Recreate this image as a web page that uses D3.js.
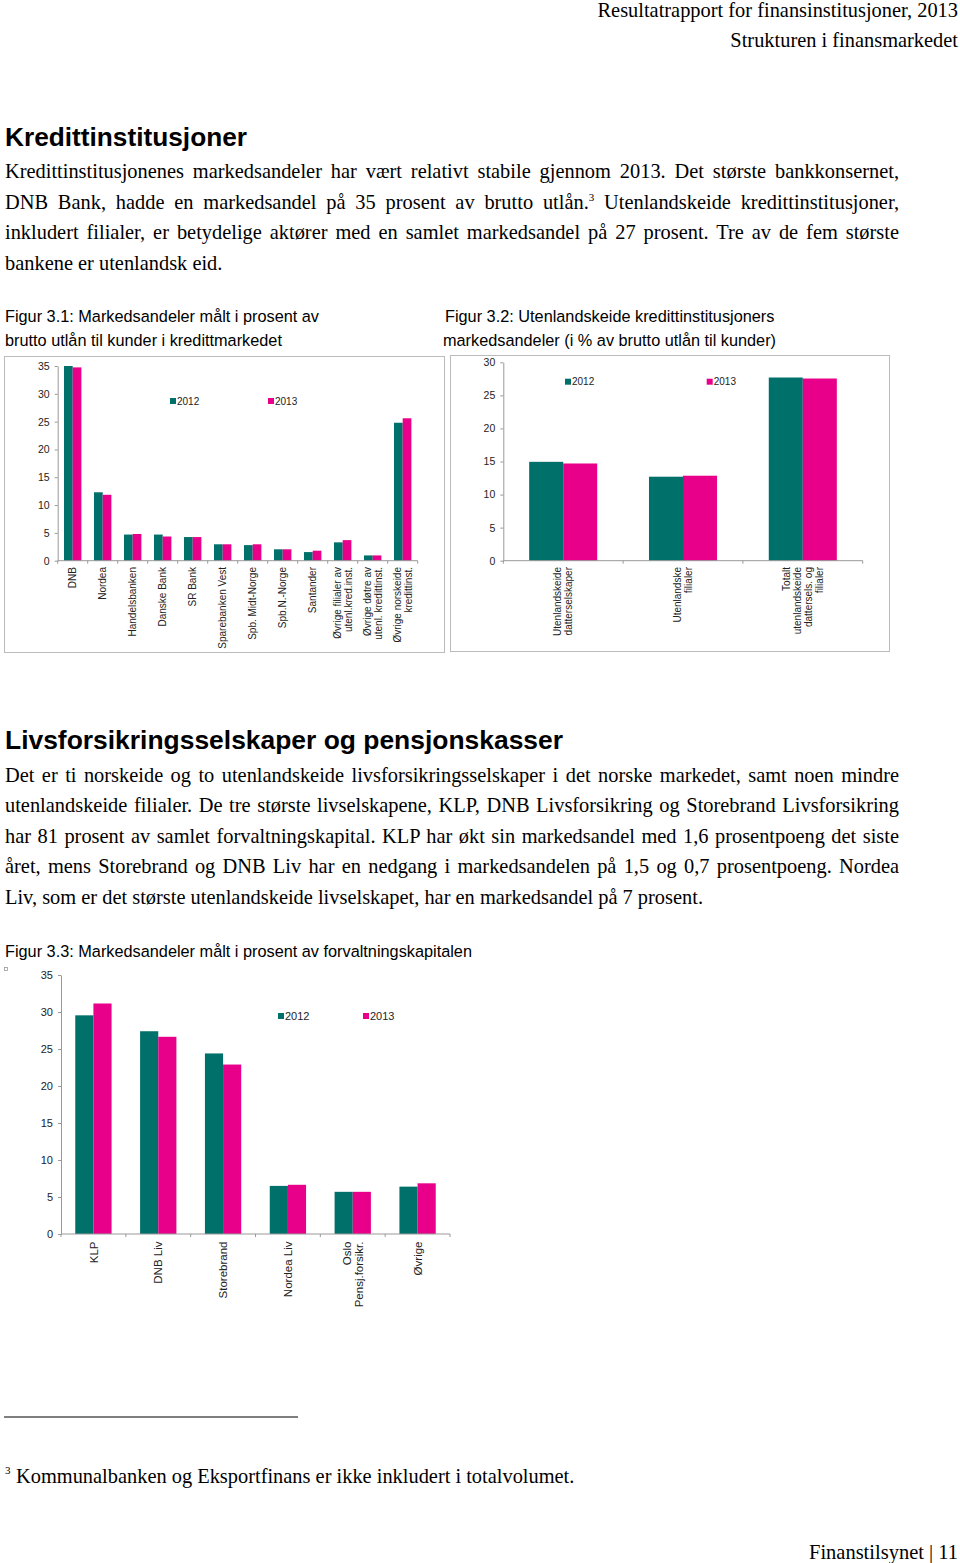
<!DOCTYPE html>
<html><head><meta charset="utf-8">
<script src="https://cdn.jsdelivr.net/npm/d3@7"></script>
<style>body{margin:0;background:#fff}svg{display:block}</style>
</head><body>
<script>
// ---------- data ----------
const banks = ["DNB","Nordea","Handelsbanken","Danske Bank","SR Bank","Sparebanken Vest","Spb. Midt-Norge","Spb.N.-Norge","Santander","Øvrige filialer av\nutenl.kred.inst.","Øvrige døtre av\nutenl. kredittinst.","Øvrige norskeide\nkredittinst."];
const banks2012 = [35.0,12.3,4.7,4.7,4.25,2.95,2.8,2.05,1.55,3.3,0.95,24.8];
const banks2013 = [34.75,11.85,4.8,4.35,4.25,2.95,2.95,2.05,1.8,3.7,0.95,25.6];
const foreignCats = ["Utenlandskeide\ndatterselskaper","Utenlandske\nfilialer","Totalt\nutenlandskeide\ndattersels. og\nfilialer"];
const foreign2012 = [14.95,12.7,27.7];
const foreign2013 = [14.7,12.85,27.55];
const lifeCats = ["KLP","DNB Liv","Storebrand","Nordea Liv","Oslo\nPensj.forsikr.","Øvrige"];
const life2012 = [29.55,27.4,24.4,6.5,5.7,6.4];
const life2013 = [31.15,26.65,22.9,6.65,5.7,6.85];
const years = ["2012","2013"];
const ticks35 = [0,5,10,15,20,25,30,35];
const ticks30 = [0,5,10,15,20,25,30];

// ---------- page ----------
const W = 960, H = 1563;
const svg = d3.select("body").append("svg").attr("width", W).attr("height", H);
const SERIF = "'Liberation Serif','Times New Roman',serif";
const SANS = "'Liberation Sans',Arial,sans-serif";
const BODY = 20.4, CAP = 16.3;

function line(segs, x, y, opts = {}) {
  const t = svg.append("text").attr("x", x).attr("y", y)
    .attr("font-family", opts.family || SERIF).attr("font-size", opts.size || BODY)
    .attr("font-weight", opts.weight || "normal").attr("fill", "#000");
  if (opts.anchor) t.attr("text-anchor", opts.anchor);
  if (typeof segs === "string") segs = [{t: segs}];
  segs.forEach(s => {
    const ts = t.append("tspan").text(s.t);
    if (s.sup) ts.attr("font-size", 11).attr("dy", -8);
    else if (s.after) ts.attr("dy", 8);
  });
  if (opts.justify) {
    const nat = t.node().getComputedTextLength();
    const txt = segs.map(s => s.t).join("");
    const n = (txt.match(/ /g) || []).length;
    if (n) t.style("word-spacing", ((opts.justify - x - nat) / n) + "px");
  }
  if (opts.fit) {
    t.attr("textLength", opts.fit).attr("lengthAdjust", "spacingAndGlyphs");
  }
  return t;
}

// header
line("Resultatrapport for finansinstitusjoner, 2013", 958, 17, {anchor: "end"});
line("Strukturen i finansmarkedet", 958, 47, {anchor: "end"});

// section 1
line("Kredittinstitusjoner", 5, 146, {family: SANS, weight: "bold", size: 25, fit: 242});
const RIGHT = 899;
line("Kredittinstitusjonenes markedsandeler har vært relativt stabile gjennom 2013. Det største bankkonsernet,", 5, 178, {justify: RIGHT});
line([{t: "DNB Bank, hadde en markedsandel på 35 prosent av brutto utlån."}, {t: "3", sup: true}, {t: " Utenlandskeide kredittinstitusjoner,", after: true}], 5, 209, {justify: RIGHT});
line("inkludert filialer, er betydelige aktører med en samlet markedsandel på 27 prosent. Tre av de fem største", 5, 239, {justify: RIGHT});
line("bankene er utenlandsk eid.", 5, 270);

// captions
line("Figur 3.1: Markedsandeler målt i prosent av", 5, 322, {family: SANS, size: CAP});
line("brutto utlån til kunder i kredittmarkedet", 5, 346, {family: SANS, size: CAP});
line("Figur 3.2: Utenlandskeide kredittinstitusjoners", 445, 322, {family: SANS, size: CAP});
line("markedsandeler (i % av brutto utlån til kunder)", 443, 346, {family: SANS, size: CAP});

// section 2
line("Livsforsikringsselskaper og pensjonskasser", 5, 749, {family: SANS, weight: "bold", size: 25, fit: 558});
line("Det er ti norskeide og to utenlandskeide livsforsikringsselskaper i det norske markedet, samt noen mindre", 5, 782, {justify: RIGHT});
line("utenlandskeide filialer. De tre største livselskapene, KLP, DNB Livsforsikring og Storebrand Livsforsikring", 5, 812, {justify: RIGHT});
line("har 81 prosent av samlet forvaltningskapital. KLP har økt sin markedsandel med 1,6 prosentpoeng det siste", 5, 843, {justify: RIGHT});
line("året, mens Storebrand og DNB Liv har en nedgang i markedsandelen på 1,5 og 0,7 prosentpoeng. Nordea", 5, 873, {justify: RIGHT});
line("Liv, som er det største utenlandskeide livselskapet, har en markedsandel på 7 prosent.", 5, 904);
line("Figur 3.3: Markedsandeler målt i prosent av forvaltningskapitalen", 5, 957, {family: SANS, size: CAP});

// footnote
svg.append("line").attr("x1", 4).attr("x2", 298).attr("y1", 1417).attr("y2", 1417).attr("stroke", "#000").attr("stroke-width", 1);
line("3", 5, 1474, {size: 11});
line("Kommunalbanken og Eksportfinans er ikke inkludert i totalvolumet.", 16, 1483);
line("Finanstilsynet | 11", 809, 1559, {fit: 149});

// ---------- charts ----------
const color = d3.scaleOrdinal().domain(years).range(["#00706a", "#e8008a"]);
const AX = "#999";

function barChart(o) {
  const g = svg.append("g");
  const y = d3.scaleLinear().domain([0, o.max]).range([o.y0, o.y1]);
  const x0 = d3.scaleBand().domain(o.cats).range([o.xa, o.xb]);
  const bw = x0.bandwidth();
  const x1 = d3.scaleBand().domain(years).range([bw * o.pad, bw * (1 - o.pad)]);
  const series = [o.v2012, o.v2013];

  g.append("g").selectAll("g").data(o.cats).join("g")
    .attr("transform", d => `translate(${x0(d)},0)`)
    .selectAll("rect").data((d, i) => years.map((yr, k) => ({yr, v: series[k][i]}))).join("rect")
    .attr("x", d => x1(d.yr)).attr("width", x1.bandwidth())
    .attr("y", d => y(d.v)).attr("height", d => y(0) - y(d.v))
    .attr("fill", d => color(d.yr));

  // y axis
  const ya = g.append("g").attr("transform", `translate(${o.xa},0)`)
    .call(d3.axisLeft(y).tickValues(o.ticks).tickSize(3).tickPadding(5).tickSizeOuter(0));
  ya.select(".domain").attr("stroke", AX);
  ya.selectAll(".tick line").attr("stroke", AX);
  ya.selectAll(".tick text").attr("font-family", SANS).attr("font-size", o.tickFs).attr("fill", "#222");

  // x axis
  const xa = g.append("g");
  xa.append("line").attr("x1", o.xa).attr("x2", o.xb).attr("y1", y(0)).attr("y2", y(0)).attr("stroke", AX);
  const bounds = o.cats.map(d => x0(d)).concat([x0.range()[1]]);
  xa.selectAll(".bt").data(bounds).join("line").attr("class", "bt")
    .attr("x1", d => d).attr("x2", d => d).attr("y1", y(0)).attr("y2", y(0) + 3).attr("stroke", AX);

  // category labels
  const lab = g.append("g").selectAll("text").data(o.cats).join("text")
    .attr("transform", d => `translate(${x0(d) + bw / 2},${o.labelTop}) rotate(-90)`)
    .attr("text-anchor", "end").attr("font-family", SANS).attr("font-size", o.labFs).attr("fill", "#222");
  lab.each(function (d) {
    const lines = d.split("\n");
    const n = lines.length;
    d3.select(this).selectAll("tspan").data(lines).join("tspan")
      .attr("x", 0).attr("y", (l, k) => (k - (n - 1) / 2) * o.lh + o.labFs * 0.36).text(l => l);
  });

  // legend
  const lg = g.append("g").selectAll("g").data(years).join("g")
    .attr("transform", (d, i) => `translate(${o.legX[i]},${o.legY})`);
  lg.append("rect").attr("x", 0).attr("y", -3).attr("width", 6).attr("height", 6).attr("fill", d => color(d));
  lg.append("text").attr("x", 7).attr("y", o.legFs * 0.36).attr("font-family", SANS)
    .attr("font-size", o.legFs).attr("fill", "#222").text(d => d);
  return g;
}

// frames
svg.append("rect").attr("x", 4.5).attr("y", 356.5).attr("width", 440).attr("height", 296).attr("fill", "none").attr("stroke", "#bbb");
svg.append("rect").attr("x", 450.5).attr("y", 355.5).attr("width", 439).attr("height", 296).attr("fill", "none").attr("stroke", "#bbb");

barChart({cats: banks, v2012: banks2012, v2013: banks2013, max: 35, ticks: ticks35,
  y0: 560.7, y1: 366, xa: 57.7, xb: 417.7, pad: 0.21, tickFs: 10.5, labFs: 10, lh: 11,
  labelTop: 567, legX: [170, 268], legY: 401, legFs: 10});

barChart({cats: foreignCats, v2012: foreign2012, v2013: foreign2013, max: 30, ticks: ticks30,
  y0: 560.7, y1: 362.3, xa: 503.3, xb: 862.7, pad: 0.216, tickFs: 10.5, labFs: 10, lh: 11,
  labelTop: 567, legX: [565, 706.7], legY: 381.7, legFs: 10});

barChart({cats: lifeCats, v2012: life2012, v2013: life2013, max: 35, ticks: ticks35,
  y0: 1234, y1: 975, xa: 61, xb: 450, pad: 0.22, tickFs: 11, labFs: 11.5, lh: 12.5,
  labelTop: 1241.5, legX: [278, 363], legY: 1016, legFs: 11});

svg.append("rect").attr("x", 4.5).attr("y", 967.5).attr("width", 3).attr("height", 3).attr("fill", "#fff").attr("stroke", "#999").attr("stroke-width", 0.8);
</script>
</body></html>
